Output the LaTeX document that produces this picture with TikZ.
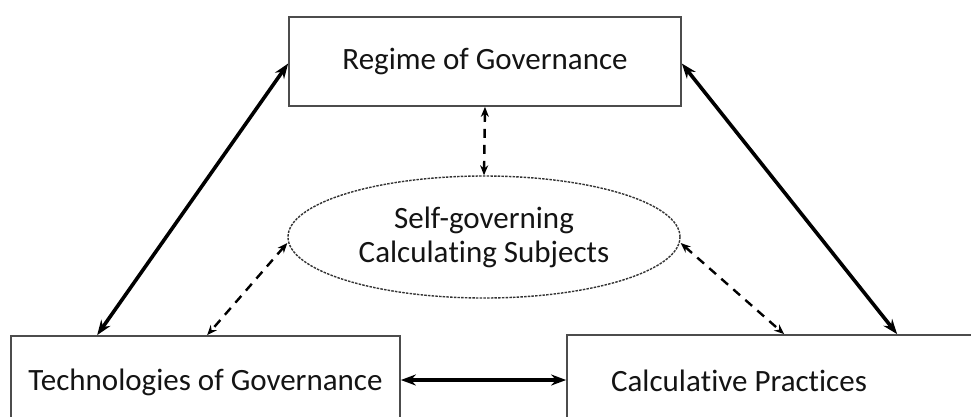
\documentclass[tikz,border=0pt]{standalone}
\usepackage{fontspec}
\setmainfont{Carlito}[RawFeature={-liga;-clig;-calt;-dlig}]
\usetikzlibrary{arrows.meta,shapes.geometric,calc}
\begin{document}
\begin{tikzpicture}[x=1pt,y=-1pt,
  every node/.style={font=\fontsize{31}{34}\selectfont, text=black!92},
  box/.style={draw=black!70, line width=1.7pt, rectangle, inner sep=0pt},
  subj/.style={ellipse, draw=black!80, line width=1.4pt, dash pattern=on 2.5pt off 1.2pt,
               minimum width=392pt, minimum height=122pt, inner sep=0pt, align=center},
  solidlink/.style={line width=3.6pt, black, {Stealth[length=15pt,width=11pt]}-{Stealth[length=15pt,width=11pt]}},
  dashlink/.style={line width=2.4pt, black, dash pattern=on 9pt off 7pt,
                   {Stealth[length=10pt,width=8pt]}-{Stealth[length=10pt,width=8pt]}}
]
\useasboundingbox (0,0) rectangle (971,416);
\clip (0,0) rectangle (971,416);
\fill[white] (0,0) rectangle (971,416);

% the three boxes
\node[box, minimum width=392pt, minimum height=89pt] (regime) at (485,61.5) {Regime of Governance};
\node[box, minimum width=389pt, minimum height=92pt] (tech) at (205.5,382) {Technologies of Governance};
\node[box, minimum width=433pt, minimum height=92pt] (calc) at (783.5,381) {Calcula\kern0pt tive Practices\hspace*{89pt}};

% the subject in the middle
\node[subj] (self) at (484,237) {Self-governing\\Calcula\kern0pt ting Subjects};

% where the links meet the lower boxes
\coordinate (techL) at ($(tech.north west)+(87,0)$);
\coordinate (techR) at ($(tech.north west)+(197,0)$);
\coordinate (calcL) at ($(calc.north west)+(218,0)$);
\coordinate (calcR) at ($(calc.north west)+(331,0)$);

% solid links
\draw[solidlink] ($(regime.west)+(0,2)$) -- (techL);
\draw[solidlink] ($(regime.east)+(0,2)$) -- (calcR);
\draw[solidlink] ($(tech.east)+(0,-2)$) -- ($(calc.west)+(0,-1)$);

% dashed links
\draw[dashlink] (regime.south) -- (self.north);
\draw[dashlink] ($(self.west)+(0,6)$) -- (techR);
\draw[dashlink] ($(self.east)+(0,6)$) -- (calcL);
\end{tikzpicture}
\end{document}
